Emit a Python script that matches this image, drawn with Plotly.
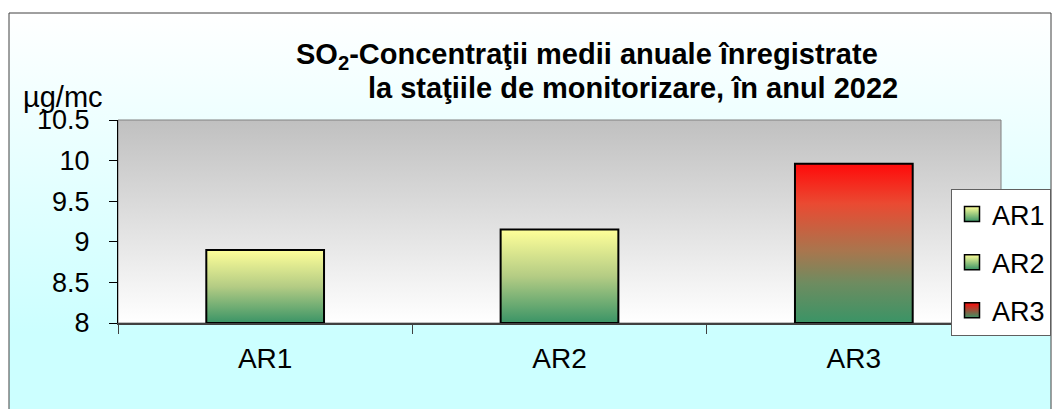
import base64
import plotly.graph_objects as go

# ---- data ----
categories = ["AR1", "AR2", "AR3"]
values = [8.9, 9.15, 9.96]
bar_colorscales = [
    [[0, "#3A9466"], [0.5, "#B4CC84"], [1, "#FFFF99"]],
    [[0, "#3A9466"], [0.5, "#B4CC84"], [1, "#FFFF99"]],
    [[0, "#3A9466"], [0.25, "#6E8C60"], [0.45, "#A8764E"], [0.75, "#EA4A32"], [1, "#FF0A0A"]],
]
legend_top = ["#FFFF99", "#FFFF99", "#FF0A0A"]
legend_bottom = ["#3A9466", "#3A9466", "#3A9466"]
y_tickvals = [8, 8.5, 9, 9.5, 10, 10.5]
y_ticktext = ["8", "8.5", "9", "9.5", "10", "10.5"]
y_min, y_max = 8.0, 10.5
title_line1 = "<b>SO<sub>2</sub>-Concentraţii medii anuale înregistrate</b>"
title_line2 = "<b>la staţiile de monitorizare, în anul 2022</b>"
unit_label = "µg/mc"

W, H = 1052, 409
# plot area in window pixels: x 118..1001, y 120..323
ML, MT = 118, 120
MR, MB = W - 1001, H - 323
PW, PH = W - ML - MR, H - MT - MB
FONT = "Arial, Liberation Sans, sans-serif"


def px_x(px):
    return (px - ML) / PW


def px_y(py):
    return (H - MB - py) / PH


def svg_gradient(stops):
    s = "".join(f'<stop offset="{o}" stop-color="{c}"/>' for o, c in stops)
    svg = ('<svg xmlns="http://www.w3.org/2000/svg" width="100" height="100" '
           'preserveAspectRatio="none" viewBox="0 0 100 100"><defs>'
           f'<linearGradient id="g" x1="0" y1="0" x2="0" y2="1">{s}</linearGradient>'
           '</defs><rect width="100" height="100" fill="url(#g)"/></svg>')
    return "data:image/svg+xml;base64," + base64.b64encode(svg.encode()).decode()


fig = go.Figure()
bar_w = 0.4
for i, (cat, v) in enumerate(zip(categories, values)):
    x0, x1 = i - bar_w / 2, i + bar_w / 2
    fig.add_trace(go.Scatter(
        x=[x0, x0, x1, x1, x0], y=[y_min, v, v, y_min, y_min],
        mode="lines", fill="toself",
        fillgradient=dict(type="vertical", colorscale=bar_colorscales[i]),
        line=dict(color="black", width=2),
        name=cat, showlegend=False, hoverinfo="skip",
    ))
    # legend entry
    fig.add_trace(go.Scatter(
        x=[None], y=[None], mode="markers", name=cat, legendgroup=cat,
        marker=dict(symbol="square", size=15, color=legend_top[i],
                    gradient=dict(type="vertical", color=legend_bottom[i]),
                    line=dict(color="black", width=1.5)),
    ))

fig.update_layout(
    width=W, height=H,
    margin=dict(l=ML, r=MR, t=MT, b=MB, autoexpand=False),
    paper_bgcolor="white",
    plot_bgcolor="rgba(0,0,0,0)",
    font=dict(family=FONT, size=27, color="black"),
    showlegend=True,
    legend=dict(x=px_x(1051), y=px_y(189), xanchor="right", yanchor="top",
                bgcolor="white", bordercolor="#606060", borderwidth=1,
                font=dict(size=27), tracegroupgap=10, itemwidth=30),
    xaxis=dict(range=[-0.5, 2.5], tickvals=list(range(len(categories))),
               ticktext=categories, ticks="", showgrid=False, zeroline=False,
               showline=True, linecolor="#404040", linewidth=2,
               tickfont=dict(size=28),
               minor=dict(tickvals=[-0.5, 0.5, 1.5, 2.5], ticks="outside",
                          ticklen=9, tickcolor="#404040", tickwidth=1, showgrid=False),
               ticklabelstandoff=9),
    yaxis=dict(range=[y_min, y_max], tickvals=y_tickvals, ticktext=y_ticktext,
               ticks="outside", ticklen=8, tickcolor="black", showgrid=False,
               zeroline=False, showline=True, linecolor="black", linewidth=1,
               ticklabelstandoff=14),
    images=[
        dict(source=svg_gradient([(0, "#FFFFFF"), (0.8, "#CCFFFF"), (1, "#CCFFFF")]),
             xref="paper", yref="paper", x=px_x(9), y=px_y(13),
             sizex=px_x(1051) - px_x(9), sizey=px_y(13) - px_y(412),
             xanchor="left", yanchor="top", sizing="stretch", layer="below"),
        dict(source=svg_gradient([(0, "#C0C0C0"), (1, "#FFFFFF")]),
             xref="paper", yref="paper", x=0, y=1, sizex=1, sizey=1,
             xanchor="left", yanchor="top", sizing="stretch", layer="below"),
    ],
    shapes=[
        dict(type="rect", xref="paper", yref="paper", x0=px_x(9), x1=px_x(1051),
             y0=px_y(13), y1=px_y(420), line=dict(color="#404040", width=1),
             layer="below"),
        dict(type="rect", xref="paper", yref="paper", x0=0, x1=1, y0=0, y1=1,
             line=dict(color="#808080", width=1), layer="below"),
    ],
    annotations=[
        dict(text=title_line1, xref="paper", yref="paper", x=px_x(587), y=px_y(56),
             xanchor="center", yanchor="middle", showarrow=False,
             font=dict(size=29)),
        dict(text=title_line2, xref="paper", yref="paper", x=px_x(633), y=px_y(88),
             xanchor="center", yanchor="middle", showarrow=False,
             font=dict(size=29)),
        dict(text=unit_label, xref="paper", yref="paper", x=px_x(21), y=px_y(97),
             xanchor="left", yanchor="middle", showarrow=False,
             font=dict(size=29)),
    ],
)

fig.write_html(
    "out.html",
    config={"displayModeBar": False},
    post_script="document.documentElement.style.margin='0';"
                "document.body.style.margin='0';"
                "document.body.style.overflow='hidden';",
)
